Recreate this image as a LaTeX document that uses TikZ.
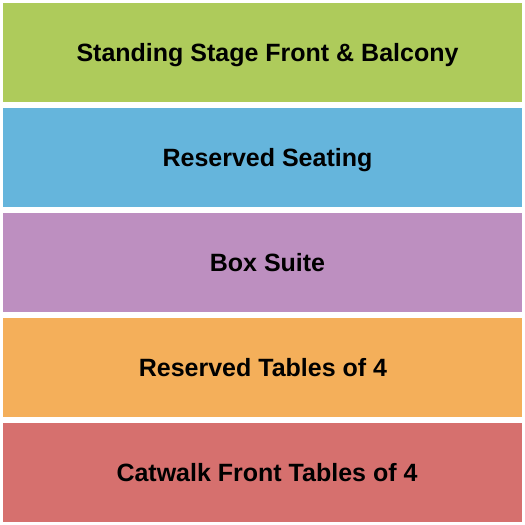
\documentclass[tikz,border=0pt]{standalone}
\usepackage{fontspec}
\setmainfont{Liberation Sans}
\definecolor{sgreen}{RGB}{174,203,91}
\definecolor{sblue}{RGB}{101,181,220}
\definecolor{spurple}{RGB}{189,143,192}
\definecolor{sorange}{RGB}{244,175,90}
\definecolor{sred}{RGB}{214,112,110}
\begin{document}
\begin{tikzpicture}[x=1pt,y=1pt,main/.style = {rectangle, minimum width=519pt, minimum height=99pt, inner sep=0pt},lbl/.style = {font=\fontsize{25}{30}\selectfont\bfseries, text height=18pt, text depth=0pt, inner sep=0pt}]
    \useasboundingbox (0,0) rectangle (525,-525);
    \node[main, fill=sgreen] (stage) at (262.5,-52.5){};
    \node[main, fill=sblue] (seating) at (262.5,-157.5){};
    \node[main, fill=spurple] (box) at (262.5,-262.5){};
    \node[main, fill=sorange] (tables) at (262.5,-367.5){};
    \node[main, fill=sred] (catwalk) at (262.5,-472.5){};
    \node[lbl] (stagelbl) at ([xshift=5pt]stage.center){Standing Stage Front \& Balcony};
    \node[lbl] (seatinglbl) at ([xshift=5pt]seating.center){Reserved Seating};
    \node[lbl] (boxlbl) at ([xshift=5pt]box.center){Box Suite};
    \node[lbl] (tableslbl) at ([xshift=0.5pt]tables.center){Reserved Tables of 4};
    \node[lbl] (catwalklbl) at ([xshift=4.5pt]catwalk.center){Catwalk Front Tables of 4};
    %\draw (stage) -- (seating);
    \end{tikzpicture}
\end{document}
